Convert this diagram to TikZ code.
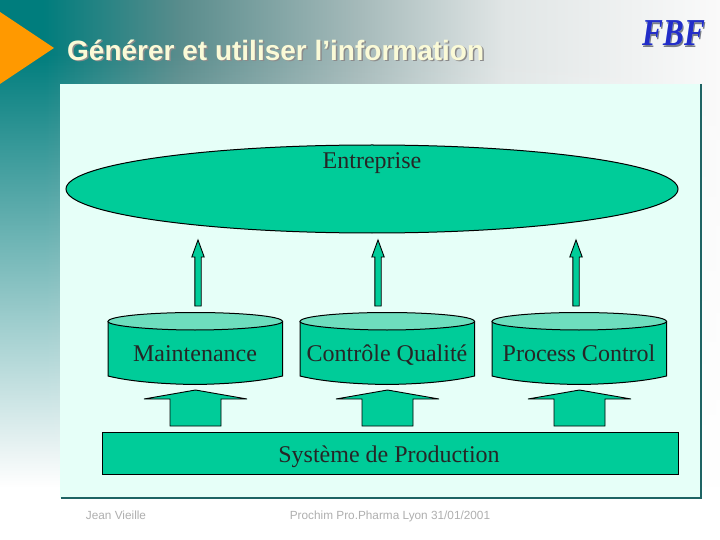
\documentclass[tikz,border=0pt]{standalone}
\usepackage{fontspec}
\setmainfont{Liberation Serif}
\newfontfamily\hv{Liberation Sans}
\usetikzlibrary{fadings,shapes.geometric}
\definecolor{tealbg}{RGB}{0,125,125}
\definecolor{panel}{RGB}{230,255,248}
\definecolor{edgeteal}{RGB}{30,100,100}
\definecolor{green}{RGB}{0,204,153}
\definecolor{lightgreen}{RGB}{110,222,190}
\definecolor{titlecol}{RGB}{250,250,215}
\definecolor{foot}{RGB}{175,175,175}
\definecolor{arrowhead}{RGB}{255,153,0}
\definecolor{logotop}{RGB}{35,45,200}
\definecolor{logobot}{RGB}{165,200,240}
\definecolor{logoshadow}{RGB}{120,125,135}
\pgfdeclarehorizontalshading{bgh}{100bp}{rgb(0bp)=(0,0.49,0.49);rgb(25bp)=(0,0.49,0.49);rgb(28bp)=(0,0.49,0.49);rgb(37.5bp)=(0.35,0.55,0.55);rgb(50bp)=(0.65,0.73,0.73);rgb(60bp)=(0.88,0.9,0.9);rgb(75bp)=(0.98,0.98,0.98);rgb(100bp)=(0.98,0.98,0.98)}
\pgfdeclareverticalshading{vfs}{100bp}{color(0bp)=(pgftransparent!0);color(30bp)=(pgftransparent!0);color(70bp)=(pgftransparent!100);color(100bp)=(pgftransparent!100)}
\pgfdeclarefading{vfade}{\pgfuseshading{vfs}}
\tikzset{
  shapeline/.style={draw=black,line width=1pt,fill=green},
  lab/.style={font=\fontsize{24}{26}\selectfont,text=black!85,inner sep=0pt,anchor=base},
  foottext/.style={font=\hv\fontsize{11.8}{14}\selectfont,text=foot,inner sep=0pt,anchor=base},
  titletext/.style={font=\hv\bfseries\fontsize{28}{30}\selectfont,inner sep=0pt,anchor=base west},
  logotext/.style={font=\bfseries\itshape\fontsize{38}{40}\selectfont,inner sep=0pt,xscale=0.82},
}
\newcommand{\drum}[2]{% left x, name
  \begin{scope}[xshift=#1pt]
    \draw[shapeline] (0,321.5) -- (0,376) .. controls (20,381) and (50,384) .. (87,384.5) .. controls (124,384) and (154,381) .. (174.5,376) -- (174.5,321.5) -- cycle;
    \draw[shapeline,fill=lightgreen] (87,312.5) .. controls (130,312.5) and (174.5,316) .. (174.5,321.5) .. controls (174.5,326) and (130,330) .. (87,330) .. controls (44,330) and (0,326) .. (0,321.5) .. controls (0,316) and (44,312.5) .. (87,312.5) -- cycle;
    \coordinate (#2) at (87,321);
  \end{scope}}
\newcommand{\uparrowthin}[1]{% centre x
  \draw[line width=0.9pt,fill=green] (#1-3.2,306) -- (#1-3.2,257) -- (#1-6.2,257) -- (#1,240) -- (#1+6.2,257) -- (#1+3.2,257) -- (#1+3.2,306) -- cycle;}
\newcommand{\uparrowwide}[1]{% centre x
  \draw[line width=0.9pt,fill=green] (#1-25.5,426) -- (#1-25.5,399) -- (#1-51.5,399) -- (#1,390) -- (#1+51.5,399) -- (#1+25.5,399) -- (#1+25.5,426) -- cycle;}
\begin{document}
\begin{tikzpicture}[x=1pt,y=-1pt]
\useasboundingbox (0,0) rectangle (720,540);
% background
\shade[shading=bgh] (0,0) rectangle (720,540);
\fill[white,path fading=vfade] (0,0) rectangle (720,540);
\fill[arrowhead] (0,12) -- (54,48) -- (0,84) -- cycle;
% title
\node[titletext,text=black!45] at (68.5,62) {Générer et utiliser l’information};
\node[titletext,text=titlecol] (title) at (67,60.5) {Générer et utiliser l’information};
% logo
\node[logotext,text=logoshadow] at (675,35) {FBF};
\node[logotext,text=logobot] (logo) at (674,33.5) {FBF};
\begin{scope}[scope fading=south,fit fading=false,fading transform={shift={(674,28)},scale=0.4}]
\node[logotext,text=logotop] at (674,33.5) {FBF};
\end{scope}
% panel
\fill[panel] (60,84) rectangle (701,498);
\draw[edgeteal,line width=1.6pt] (701,84) -- (701,498) -- (61,498);
% enterprise
\node[ellipse,draw=black,line width=1pt,fill=green,minimum width=612pt,minimum height=88pt,inner sep=0pt] (ent) at (372,189) {};
\node[lab] (entlab) at (372,169) {Entreprise};
% thin arrows
\uparrowthin{198}
\uparrowthin{378}
\uparrowthin{576}
% drums
\drum{108}{d1}
\drum{300}{d2}
\drum{492}{d3}
\node[lab] (m) at (195,361) {Maintenance};
\node[lab] (c) at (387,361) {Contrôle Qualité};
\node[lab] (p) at (579,361) {Process Control};
% wide arrows
\uparrowwide{195.5}
\uparrowwide{387.5}
\uparrowwide{579.5}
% production
\node[draw=black,line width=1pt,fill=green,minimum width=575.5pt,minimum height=42pt,inner sep=0pt] (sys) at (390.7,453) {};
\node[lab] (syslab) at (389,462.5) {Système de Production};
% footer
\node[foottext] (f1) at (116,519) {Jean Vieille};
\node[foottext] (f2) at (390,519) {Prochim Pro.Pharma Lyon 31/01/2001};
\end{tikzpicture}
\end{document}
